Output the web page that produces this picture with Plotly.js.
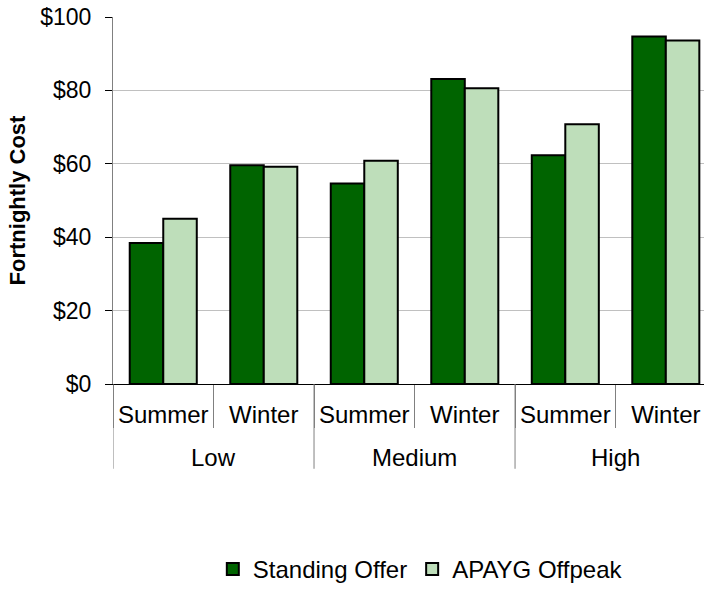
<!DOCTYPE html>
<html>
<head>
<meta charset="utf-8">
<script src="https://cdn.plot.ly/plotly-3.0.1.min.js"></script>
<style>
html,body{margin:0;padding:0;background:#fff;overflow:hidden;}
#chart{width:704px;height:592px;}
</style>
</head>
<body>
<div id="chart"></div>
<script>
var groups = ["Low", "Low", "Medium", "Medium", "High", "High"];
var seasons = ["Summer", "Winter", "Summer", "Winter", "Summer", "Winter"];
var standingOffer = [38.4, 59.6, 54.6, 83.1, 62.3, 94.7];
var apaygOffpeak = [45.0, 59.2, 60.8, 80.6, 70.8, 93.6];
var yTickVals = [0, 20, 40, 60, 80, 100];
var yTickText = ["$0", "$20", "$40", "$60", "$80", "$100"];

var FONT = "Liberation Sans, Arial, sans-serif";

// unique category keys, labelled by season on the axis
var cats = groups.map(function (g, i) { return g + " " + seasons[i]; });

// group spans (index based, derived from the groups array)
var groupNames = [];
var groupFirst = {}, groupLast = {};
groups.forEach(function (g, i) {
  if (!(g in groupFirst)) { groupNames.push(g); groupFirst[g] = i; }
  groupLast[g] = i;
});

var annotations = groupNames.map(function (g) {
  return {
    text: g, xref: "x", yref: "paper",
    x: (groupFirst[g] + groupLast[g]) / 2, y: -0.2016,
    xanchor: "center", yanchor: "middle", showarrow: false,
    font: {family: FONT, size: 24, color: "#000"}
  };
});
var shapes = groupNames.map(function (g) {
  return {
    type: "line", xref: "x", yref: "paper",
    x0: groupFirst[g] - 0.5, x1: groupFirst[g] - 0.5, y0: 0, y1: -0.231,
    line: {color: "#808080", width: 1}
  };
});

var traces = [
  {
    type: "bar",
    name: "Standing Offer",
    x: cats,
    y: standingOffer,
    marker: {color: "#006400", line: {color: "#000000", width: 2}},
    hoverinfo: "skip"
  },
  {
    type: "bar",
    name: "APAYG Offpeak",
    x: cats,
    y: apaygOffpeak,
    marker: {color: "#bedeba", line: {color: "#000000", width: 2}},
    hoverinfo: "skip"
  }
];

var layout = {
  width: 704,
  height: 592,
  margin: {l: 113, r: 0, t: 17, b: 203, pad: 0},
  paper_bgcolor: "#ffffff",
  plot_bgcolor: "#ffffff",
  font: {family: FONT, size: 22, color: "#000000"},
  barmode: "group",
  bargap: 0.333,
  bargroupgap: 0,
  showlegend: true,
  legend: {
    orientation: "h",
    x: 0.52, xanchor: "center",
    y: -0.507, yanchor: "middle",
    font: {family: FONT, size: 24, color: "#000"},
    itemwidth: 30,
    tracegroupgap: 0
  },
  annotations: annotations,
  shapes: shapes,
  xaxis: {
    type: "category",
    categoryorder: "array",
    categoryarray: cats,
    tickvals: cats,
    ticktext: seasons,
    range: [-0.5, 5.38],
    showline: true,
    linecolor: "#000000",
    linewidth: 1,
    ticks: "outside",
    tickson: "boundaries",
    ticklen: 43,
    tickcolor: "#808080",
    tickwidth: 1,
    ticklabelstandoff: 9,
    showgrid: false,
    tickfont: {family: FONT, size: 24, color: "#000"},
    automargin: false
  },
  yaxis: {
    range: [0, 100],
    tickvals: yTickVals,
    ticktext: yTickText,
    showline: true,
    linecolor: "#808080",
    linewidth: 1,
    ticks: "outside",
    ticklen: 7,
    tickcolor: "#000000",
    ticklabelstandoff: 9,
    showgrid: true,
    gridcolor: "#c0c0c0",
    gridwidth: 1,
    zeroline: false,
    tickfont: {family: FONT, size: 23, color: "#000"},
    title: {text: "<b>Fortnightly Cost</b>", font: {family: FONT, size: 22, color: "#000"}, standoff: 8},
    automargin: false
  }
};

Plotly.newPlot("chart", traces, layout, {displayModeBar: false, staticPlot: true});
</script>
</body>
</html>
